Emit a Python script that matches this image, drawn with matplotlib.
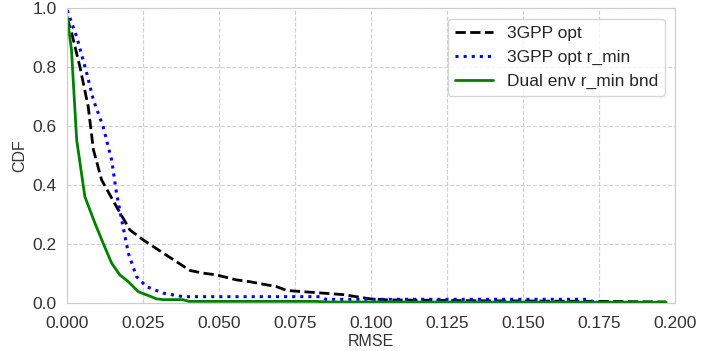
import matplotlib
matplotlib.use("Agg")
import matplotlib.pyplot as plt
import seaborn as sns

# curves
x_opt = [0.0, 0.0015, 0.0042, 0.0069, 0.0086, 0.0113, 0.0162, 0.0206, 0.025,
         0.0316, 0.0404, 0.0447, 0.0491, 0.0557, 0.060, 0.0689, 0.0722, 0.0842,
         0.0908, 0.0996, 0.106, 0.137, 0.175, 0.197]
y_opt = [0.966, 0.915, 0.80, 0.666, 0.52, 0.417, 0.326, 0.247, 0.213,
         0.168, 0.109, 0.10, 0.094, 0.077, 0.071, 0.054, 0.041, 0.032,
         0.027, 0.0126, 0.009, 0.006, 0.004, 0.002]

x_rmin = [0.0, 0.0031, 0.0064, 0.0086, 0.0118, 0.0146, 0.0162, 0.0179, 0.0201,
          0.0228, 0.0261, 0.0316, 0.038, 0.083, 0.085, 0.171, 0.173]
y_rmin = [0.994, 0.904, 0.78, 0.689, 0.598, 0.485, 0.372, 0.281, 0.168,
          0.088, 0.054, 0.032, 0.02, 0.02, 0.011, 0.011, 0.003]

x_dual = [0.0, 0.0014, 0.0031, 0.0058, 0.0091, 0.0118, 0.0146, 0.0173, 0.0201,
          0.0234, 0.0261, 0.0294, 0.0316, 0.038, 0.040, 0.082, 0.085, 0.197]
y_dual = [0.971, 0.858, 0.553, 0.36, 0.27, 0.202, 0.134, 0.094, 0.071,
          0.037, 0.026, 0.0126, 0.01, 0.01, 0.004, 0.004, 0.002, 0.001]

sns.set_style("whitegrid", {"grid.linestyle": "--", "axes.edgecolor": "#cccccc"})
plt.rcParams['font.family'] = ['Liberation Sans', 'DejaVu Sans']

fig = plt.figure(figsize=(7.23, 3.51), dpi=100)
ax = fig.add_axes([0.093, 0.138, 0.841, 0.838])

ax.plot(x_opt, y_opt, color='black', linestyle='--', linewidth=2, label='3GPP opt')
ax.plot(x_rmin, y_rmin, color='blue', linestyle=':', linewidth=2.2, label='3GPP opt r_min')
ax.plot(x_dual, y_dual, color='green', linestyle='-', linewidth=2, label='Dual env r_min bnd')

ax.set_xlim(0, 0.2)
ax.set_ylim(0, 1.0)
ax.set_xticks([0, 0.025, 0.05, 0.075, 0.1, 0.125, 0.15, 0.175, 0.2])
ax.set_xticklabels([f'{v:.3f}' for v in ax.get_xticks()])
ax.set_yticks([0, 0.2, 0.4, 0.6, 0.8, 1.0])
ax.set_yticklabels([f'{v:.1f}' for v in ax.get_yticks()])
ax.tick_params(axis='x', labelsize=12.5, colors='#333333', pad=6)
ax.tick_params(axis='y', labelsize=12.5, colors='#333333', pad=4)
ax.grid(True, color='#d0d0d0', linestyle='--', linewidth=0.8)
ax.set_xlabel('RMSE', fontsize=11.5, color='#333333', labelpad=2)
ax.set_ylabel('CDF', fontsize=11.5, color='#333333', labelpad=4)

leg = ax.legend(loc='upper right', fontsize=12.5, frameon=True, handlelength=2.2,
                borderaxespad=0.6)
leg.get_frame().set_edgecolor('#cccccc')

fig.savefig('out.png', dpi=100)
